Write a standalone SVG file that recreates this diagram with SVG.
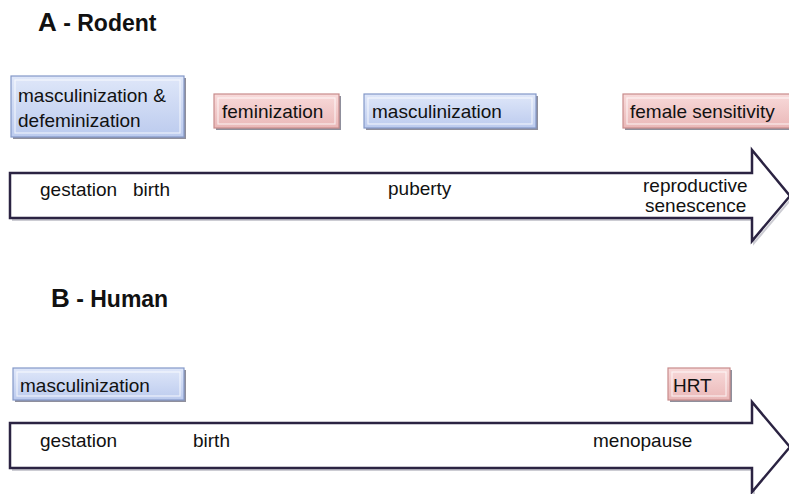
<svg xmlns="http://www.w3.org/2000/svg" width="789" height="494" viewBox="0 0 789 494">
<style>
  text { font-family: "Liberation Sans", Arial, sans-serif; fill: #111; }
  .lbl { font-size: 19px; }
  .title { font-weight: bold; font-size: 23px; }
  .big { font-size: 26px; }
  .blue { fill: url(#gBlue); stroke: #8498c8; stroke-width: 1.2; }
  .pink { fill: url(#gPink); stroke: #c88c8c; stroke-width: 1.2; }
  .shadow { fill: #33334a; opacity: 0.55; }
  .hl { fill: none; stroke: #ffffff; stroke-opacity: 0.7; stroke-width: 1.2; }
  .arrow { fill: #ffffff; stroke: #2b2342; stroke-width: 2.5; stroke-linejoin: miter; }
  .arrowShadow { fill: none; stroke: #9a9aa8; stroke-width: 2; opacity: 0.5; }
</style>
<defs>
  <linearGradient id="gBlue" x1="0" y1="0" x2="0" y2="1">
    <stop offset="0" stop-color="#dfe7f9"/>
    <stop offset="1" stop-color="#bccbee"/>
  </linearGradient>
  <linearGradient id="gPink" x1="0" y1="0" x2="0" y2="1">
    <stop offset="0" stop-color="#f8dada"/>
    <stop offset="1" stop-color="#eab8b8"/>
  </linearGradient>
</defs>
<rect width="789" height="494" fill="#ffffff"/>

<g id="titleA"><text class="title" x="38" y="31"><tspan class="big">A</tspan> - Rodent</text></g>
<g id="titleB"><text class="title" x="51" y="307"><tspan class="big">B</tspan> - Human</text></g>

<g id="timelines">
  <path class="arrowShadow" d="M12,220 H754 V243 L792,198"/>
  <path class="arrow" d="M10,173 H752 V150 L790,196 L752,241 V218 H10 Z"/>
  <path class="arrowShadow" d="M12,470 H754 V494"/>
  <path class="arrow" d="M10,423 H752 V402 L790,447 L752,492 V468 H10 Z"/>
</g>

<g id="nodeA1">
  <rect class="shadow" x="13" y="78" width="173" height="61"/>
  <rect class="blue" x="11" y="76" width="173" height="61"/>
  <rect class="hl" x="15" y="80" width="165" height="53"/>
  <text class="lbl" x="18" y="102">masculinization &amp;</text>
  <text class="lbl" x="18" y="127">defeminization</text>
</g>
<g id="nodeA2">
  <rect class="shadow" x="216" y="96" width="125" height="34"/>
  <rect class="pink" x="214" y="94" width="125" height="34"/>
  <rect class="hl" x="218" y="98" width="117" height="26"/>
  <text class="lbl" x="222" y="118">feminization</text>
</g>
<g id="nodeA3">
  <rect class="shadow" x="366" y="96" width="172" height="34"/>
  <rect class="blue" x="364" y="94" width="172" height="34"/>
  <rect class="hl" x="368" y="98" width="164" height="26"/>
  <text class="lbl" x="372" y="118">masculinization</text>
</g>
<g id="nodeA4">
  <rect class="shadow" x="625" y="96" width="170" height="34"/>
  <rect class="pink" x="623" y="94" width="170" height="34"/>
  <rect class="hl" x="627" y="98" width="170" height="26"/>
  <text class="lbl" x="630" y="118">female sensitivity</text>
</g>

<g id="labelsA">
  <text class="lbl" x="40" y="196">gestation</text>
  <text class="lbl" x="133" y="196">birth</text>
  <text class="lbl" x="388" y="195">puberty</text>
  <text class="lbl" x="643" y="192">reproductive</text>
  <text class="lbl" x="645" y="212">senescence</text>
</g>

<g id="nodeB1">
  <rect class="shadow" x="15" y="370" width="171" height="32"/>
  <rect class="blue" x="13" y="368" width="171" height="32"/>
  <rect class="hl" x="17" y="372" width="163" height="24"/>
  <text class="lbl" x="20" y="392">masculinization</text>
</g>
<g id="nodeB2">
  <rect class="shadow" x="670" y="370" width="62" height="32"/>
  <rect class="pink" x="668" y="368" width="62" height="32"/>
  <rect class="hl" x="672" y="372" width="54" height="24"/>
  <text class="lbl" x="673" y="392">HRT</text>
</g>

<g id="labelsB">
  <text class="lbl" x="40" y="447">gestation</text>
  <text class="lbl" x="193" y="447">birth</text>
  <text class="lbl" x="593" y="447">menopause</text>
</g>
</svg>
